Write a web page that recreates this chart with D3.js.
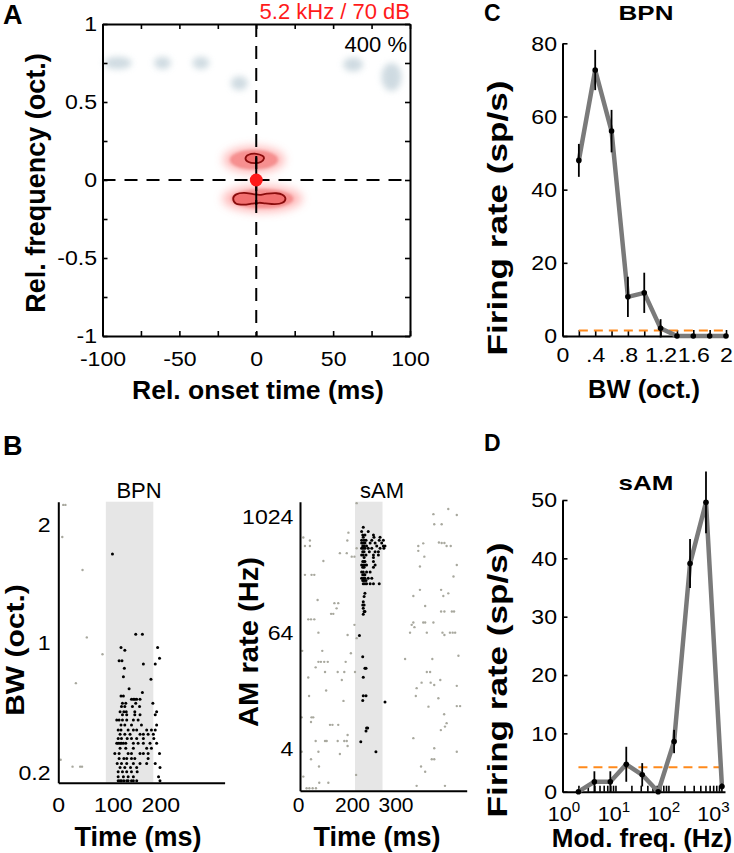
<!DOCTYPE html>
<html><head><meta charset="utf-8">
<script src="https://cdn.jsdelivr.net/npm/d3@7"></script>
<style>
body{margin:0;background:#fff;}
svg{display:block;font-family:"Liberation Sans",Arial,Helvetica,sans-serif;}
</style></head><body>
<svg id="fig" width="734" height="853"></svg>
<script>
// ================= DATA =================
// Panel A : blobs of the spectro-temporal map (rel. onset time ms, rel. freq oct.)
const aBlueT  = [-90, -61, -36, -11, 63, 88];
const aBlueF  = [0.75, 0.75, 0.75, 0.62, 0.74, 0.66];
const aBlueWT = [9, 5.5, 5.5, 5.5, 6.5, 6.5];
const aBlueWF = [0.04, 0.04, 0.04, 0.045, 0.045, 0.09];
const aRedT   = [-1.5, 4];
const aRedF   = [0.13, -0.12];
const aRedWT  = [20, 26];
const aRedWF  = [0.085, 0.085];
const aUpperContour = [[-7,0.138],[-5,0.162],[0,0.168],[4,0.155],[5,0.138],[3,0.115],[-1,0.108],[-5,0.115]];
const aLowerContour = [[-15,-0.12],[-13,-0.092],[-8,-0.083],[-2,-0.09],[2,-0.095],[7,-0.088],[13,-0.085],[17,-0.095],[19,-0.12],[17,-0.146],[12,-0.155],[6,-0.15],[2,-0.146],[-3,-0.152],[-8,-0.158],[-13,-0.152]];
const aXTicks = [-100,-75,-50,-25,0,25,50,75,100];
const aYTicks = [-1,-0.75,-0.5,-0.25,0,0.25,0.5,0.75,1];

// Panel C : BPN tuning
const cBW   = [0.2,0.4,0.6,0.8,1.0,1.2,1.4,1.6,1.8,2.0];
const cRate = [48,72.7,56,10.7,11.8,2.1,0,0,0,0];
const cErr  = [4.5,5.5,5.8,5.5,5.5,2.5,0,0,0,0];
const cSpont = 1.5;
const cXTicks = [0,0.2,0.4,0.6,0.8,1.0,1.2,1.4,1.6,1.8,2.0];
const cXLabels = {"0":"0","0.4":".4","0.8":".8","1.2":"1.2","1.6":"1.6","2":"2"};
const cYTicks = [0,20,40,60,80];

// Panel D : sAM tuning
const dMod  = [2,4,8,16,32,64,128,256,512,1024];
const dRate = [0,1.7,1.7,4.7,2.9,0,8.6,39.1,49.6,0.9];
const dErr  = [0,1.8,1.8,3,2,0,2,4.2,5.3,0.5];
const dSpont = 4.2;
const dYTicks = [0,10,20,30,40,50];
const dXMajor = [1,10,100,1000];
const dXLabelShift = [1.5,-1.5,-4.5,-8];

// Panel B left : BPN raster  [trial, spike times ms]
const bpnRows = [
 [0.5,[126,130,133,138,144,147,154,158,165,214]],
 [1.5,[126,137,147,158,211]],
 [2.7,[126,135,144,154,166]],
 [3.8,[130,140,152,165,214]],
 [4.8,[124,133,144,158,172,186,204]],
 [6,[128,138,144,154,161,189]],
 [7.3,[119,128,147,154,172,179,189,213]],
 [8.6,[130,142,158,186,196]],
 [9.8,[123,126,130,133,137,142,158,168,179,193,207]],
 [11,[126,133,145,154,165,179,201]],
 [12.1,[130,140,151,172,179,189,200]],
 [13.1,[126,132,147,158,165,186,196,204]],
 [14.4,[132,140,154,175,207]],
 [15.6,[123,128,135,144,158,168]],
 [16.9,[135,144,161,172,204]],
 [17.7,[130,138,143,161,207]],
 [19,[133,140,156,171]],
 [19.8,[135,142,163,199]],
 [20.8,[154,158,161,165,172]],
 [21.6,[132,137]],
 [22.5,[177]],
 [23.4,[149]],
 [25.8,[195]],
 [26.4,[137]],
 [28.5,[139]],
 [29.6,[179,204]],
 [30.4,[128,134]],
 [31,[213]],
 [33,[140]],
 [33.7,[132,209]],
 [37,[163,177]],
 [57,[114]]
];
const bpnSpont = [[10.5,69.2],[15,69.2],[8.4,61.2],[51,53],[60,36.2],[93,32],[37,24.8],[5,5.7],[30,4],[46,4],[50,4]];
const bpnTickTrials = [2.4, 34.8, 64.3];
const bpnTickLabels = ["0.2","1","2"];
const bpnXTicks = [0,100,200];
const bpnXLabelShift = [0,7,7];
const bpnStim = [100,200];

// Panel B right : sAM raster  [log2 AM rate, spike times ms]
const samRows = [
 [9.65,[230]],[9.5,[224,248]],[9.38,[228,236,267]],[9.3,[230,269,291]],
 [9.2,[224,233,240,261,288,303]],[9.1,[224,230,236,255,273,297]],
 [9.0,[228,233,242,279,303,309]],[8.92,[224,230,236,248,261,291,305]],
 [8.8,[228,233,252,273,285]],[8.69,[224,230,240,267,285]],[8.6,[233,267]],
 [8.46,[228,233,236,267]],[8.34,[224,230,236,242,273]],[8.26,[228,233,267]],
 [8.1,[224,230,242,255]],[8.0,[228,233,236]],[7.88,[224,230,236,248,261]],
 [7.8,[228,233,240]],[7.69,[230,236,242,255,267,288]],[7.36,[236]],[7.25,[233]],
 [7.07,[230]],[6.96,[228,233]],[6.84,[230]],[6.73,[233,236]],[6.64,[230]],
 [5.9,[216]],[5.17,[228]],[4.77,[236,240]],[4.46,[230]],[3.82,[230,240]],
 [3.65,[228]],[3.6,[309]],[2.7,[242,246]],[2.6,[240]],[2.23,[221]],[1.88,[276]]
];
const samSpont = [
 [12,9.29],[36,9.19],[18,9.0],[36,9.0],[176,9.46],[172,9.19],[145,8.75],[170,8.75],[188,8.63],[198,8.63],[206,8.92],[85,8.48],
 [18,8.0],[42,8.0],[52,8.0],[64,7.13],[125,7.02],[139,7.02],[133,6.84],[113,6.65],[121,6.65],[30,6.46],[40,6.46],[52,6.46],[198,6.27],[206,10.48],
 [485,10.1],[488,9.75],[515,9.75],[430,9.0],[448,9.09],[430,8.83],[452,8.63],[505,9.12],[515,9.1],[525,9.1],[436,8.29],[436,7.48],[412,7.27],
 [513,7.48],[521,7.27],[455,6.92],[513,6.73],[525,6.73],[412,6.35],[406,6.27],[448,6.35],[455,6.35],[485,6.35],
 [206,5.81],[67,6.0],[173,5.92],[8,5.37],[81,5.37],[185,5.29],[67,4.99],[76,4.99],[88,4.99],[101,4.99],[166,4.99],[57,4.8],
 [91,4.64],[137,4.64],[161,4.64],[200,4.64],[30,4.45],[152,4.36],[95,4.0],[33,3.81],[158,3.64],[6,3.07],[42,3.07],[48,3.07],
 [40,2.91],[109,2.81],[118,2.81],[139,2.81],[173,2.46],[57,2.25],[91,2.25],[97,2.25],[137,2.25],[161,2.25],[170,2.25],[173,2.08],
 [67,1.88],[6,1.88],[145,1.8],[40,1.62],[69,1.37],
 [416,6.19],[400,6.0],[461,6.0],[518,6.0],[525,5.92],[382,5.09],[481,5.09],[461,4.64],[473,4.64],[442,4.27],[475,4.27],[488,4.19],
 [510,4.36],[424,4.08],[421,3.81],[503,3.73],[467,3.44],[524,3.18],[512,2.63],[412,2.35],[488,2.0],[479,1.62],[488,1.62],[440,1.37],
 [539,10.28],[570,10.07],[533,9.0],[548,9.0],[570,8.34],[558,7.94],[539,7.36],[552,6.73],[560,6.73],[545,6.0],[555,6.0],[564,6.0],
 [576,5.2],[570,4.16],[582,3.46],[570,3.46],[533,2.87],[527,2.75],[570,1.88],
 [12,1.02],[24,0.62],[34,0.62],[46,0.62],[58,0.62],[70,0.81],[103,0.81],[204,1.08],[424,0.7],[527,0.7],[455,1.19]
];
const samTickOct = [2,6,10];
const samXTicks = [0,200,300];
const samXLabelShift = [-2,-3,13];
const samStim = [200,300];

// ================= DRAWING =================
const FONT = '"Liberation Sans", Arial, Helvetica, sans-serif';
const svg = d3.select("#fig");
const defs = svg.append("defs");
[["blur3",3.2],["blur5",5],["blur2",1.6]].forEach(([id,s])=>{
  defs.append("filter").attr("id",id).attr("x","-50%").attr("y","-50%").attr("width","200%").attr("height","200%")
    .append("feGaussianBlur").attr("stdDeviation",s);
});

// sx stretches a text along its own writing direction
function label(str, x, y, o={}) {
  const sx = o.sx||1, rot = o.rot||0;
  return svg.append("text")
    .attr("transform",`translate(${x},${y}) rotate(${rot}) scale(${sx},1)`)
    .attr("text-anchor",o.anchor||"middle")
    .attr("font-size",o.size||20).attr("font-weight",o.weight||"normal")
    .attr("fill",o.fill||"#000").attr("font-family",FONT).text(str);
}
function styleAxis(g, fs=21, sx=1.1) {
  g.attr("font-family",FONT);
  g.select(".domain").attr("stroke","#000").attr("stroke-width",2);
  g.selectAll(".tick line").attr("stroke","#000").attr("stroke-width",1.6);
  g.selectAll(".tick text").attr("font-size",fs).attr("fill","#000").attr("transform",`scale(${sx},1)`);
}

// ---------- Panel A ----------
const xA = d3.scaleLinear().domain([-100,100]).range([102.5,410]);
const yA = d3.scaleLinear().domain([-1,1]).range([336,24]);
const gA = svg.append("g");
gA.selectAll("ellipse.blue").data(aBlueT).join("ellipse")
  .attr("cx",(d,i)=>xA(d)).attr("cy",(d,i)=>yA(aBlueF[i]))
  .attr("rx",(d,i)=>xA(aBlueWT[i])-xA(0)).attr("ry",(d,i)=>yA(0)-yA(aBlueWF[i]))
  .attr("fill","#c3d2da").attr("opacity",0.8).attr("filter","url(#blur3)");
gA.selectAll("ellipse.halo").data(aRedT).join("ellipse")
  .attr("cx",(d)=>xA(d)).attr("cy",(d,i)=>yA(aRedF[i]))
  .attr("rx",(d,i)=>xA(aRedWT[i])-xA(0)).attr("ry",(d,i)=>yA(0)-yA(aRedWF[i]))
  .attr("fill","#ffa6a6").attr("opacity",0.8).attr("filter","url(#blur5)");
gA.selectAll("ellipse.mid").data(aRedT).join("ellipse")
  .attr("cx",(d)=>xA(d)).attr("cy",(d,i)=>yA(aRedF[i]))
  .attr("rx",(d,i)=>(xA(aRedWT[i])-xA(0))*0.75).attr("ry",(d,i)=>(yA(0)-yA(aRedWF[i]))*0.66)
  .attr("fill","#f47a7a").attr("opacity",0.65).attr("stroke","#e25c5c").attr("stroke-width",1.2).attr("filter","url(#blur2)");
const contourLine = d3.line().x(d=>xA(d[0])).y(d=>yA(d[1])).curve(d3.curveCardinalClosed);
[aUpperContour, aLowerContour].forEach(c=>{
  gA.append("path").attr("d",contourLine(c)).attr("fill","#ee5050").attr("fill-opacity",0.5)
    .attr("stroke","#8a0c0c").attr("stroke-width",1.8);
});
gA.append("line").attr("x1",xA(0)).attr("x2",xA(0)).attr("y1",yA(1)).attr("y2",yA(-1))
  .attr("stroke","#000").attr("stroke-width",2).attr("stroke-dasharray","13,9");
gA.append("line").attr("x1",xA(-100)).attr("x2",xA(100)).attr("y1",yA(0)).attr("y2",yA(0))
  .attr("stroke","#000").attr("stroke-width",2).attr("stroke-dasharray","13,9");
gA.append("line").attr("x1",xA(0)).attr("x2",xA(0)).attr("y1",yA(0.145)).attr("y2",yA(-0.16))
  .attr("stroke","#000").attr("stroke-width",2);
gA.append("circle").attr("cx",xA(0)).attr("cy",yA(0)).attr("r",6.5).attr("fill","#ff1a1a");
const fmtA = d => (Math.abs(d)%50===0 ? String(d) : "");
const fmtAy = d => (Math.abs(d*2)%1===0 ? String(d) : "");
let ax = gA.append("g").attr("transform","translate(0,336)")
  .call(d3.axisBottom(xA).tickValues(aXTicks).tickSizeInner(-5).tickSizeOuter(0).tickPadding(15).tickFormat(fmtA));
styleAxis(ax);
ax = gA.append("g").attr("transform","translate(0,24)")
  .call(d3.axisTop(xA).tickValues(aXTicks).tickSizeInner(-5).tickSizeOuter(0).tickFormat(""));
styleAxis(ax);
ax = gA.append("g").attr("transform","translate(102.5,0)")
  .call(d3.axisLeft(yA).tickValues(aYTicks).tickSizeInner(-5).tickSizeOuter(0).tickPadding(5).tickFormat(fmtAy));
styleAxis(ax);
ax = gA.append("g").attr("transform","translate(410,0)")
  .call(d3.axisRight(yA).tickValues(aYTicks).tickSizeInner(-5).tickSizeOuter(0).tickFormat(""));
styleAxis(ax);
label("5.2 kHz / 70 dB", 410, 19, {anchor:"end", size:22, fill:"#ff1a1a"});
label("400 %", 407, 52, {anchor:"end", size:22});
label("Rel. onset time (ms)", 258, 399, {size:26.5, weight:"bold"});
label("Rel. frequency (oct.)", 45, 183, {size:27, weight:"bold", rot:-90});
label("A", 3, 24, {anchor:"start", size:27, weight:"bold"});

// ---------- Panel C ----------
const xC = d3.scaleLinear().domain([0,2]).range([562.5,726]);
const yC = d3.scaleLinear().domain([0,80]).range([336,43.3]);
const gC = svg.append("g");
ax = gC.append("g").attr("transform","translate(0,336)")
  .call(d3.axisBottom(xC).tickValues(cXTicks).tickSizeInner(-6).tickSizeOuter(0).tickPadding(11)
    .tickFormat(d=>cXLabels[String(+d.toFixed(1))]||""));
styleAxis(ax);
ax = gC.append("g").attr("transform","translate(562.5,0)")
  .call(d3.axisLeft(yC).tickValues(cYTicks).tickSizeInner(-5).tickSizeOuter(0).tickPadding(5));
styleAxis(ax);
gC.append("line").attr("x1",xC(cBW[0])).attr("x2",xC(cBW[cBW.length-1])).attr("y1",yC(cSpont)).attr("y2",yC(cSpont))
  .attr("stroke","#ff8a1c").attr("stroke-width",2).attr("stroke-dasharray","9,6");
gC.append("path").datum(cBW).attr("fill","none").attr("stroke","#7a7a7a").attr("stroke-width",4.5).attr("stroke-linejoin","round")
  .attr("d",d3.line().x(d=>xC(d)).y((d,i)=>yC(cRate[i])));
gC.selectAll("line.err").data(cBW).join("line").attr("x1",d=>xC(d)).attr("x2",d=>xC(d))
  .attr("y1",(d,i)=>yC(cRate[i]-cErr[i])).attr("y2",(d,i)=>yC(cRate[i]+cErr[i])).attr("stroke","#000").attr("stroke-width",1.8);
gC.selectAll("circle.pt").data(cBW).join("circle").attr("cx",d=>xC(d)).attr("cy",(d,i)=>yC(cRate[i])).attr("r",2.8).attr("fill","#000");
label("BPN", 646, 20, {size:20, weight:"bold", sx:1.3});
label("BW (oct.)", 644, 398, {size:25.5, weight:"bold"});
label("Firing rate (sp/s)", 507, 218, {size:27, weight:"bold", rot:-90, sx:1.3});
label("C", 484, 21, {anchor:"start", size:23, weight:"bold"});

// ---------- Panel D ----------
const xD = d3.scaleLog().domain([1,1170]).range([562.5,725]);
const yD = d3.scaleLinear().domain([0,50]).range([791.7,500]);
const gD = svg.append("g");
const dMinor = [];
dXMajor.slice(0,3).forEach(m=>{ for(let k=1;k<10;k++) dMinor.push(m*k); });
dMinor.push(1000);
ax = gD.append("g").attr("transform","translate(0,791.7)")
  .call(d3.axisBottom(xD).tickValues(dMinor).tickSizeInner(-6).tickSizeOuter(0).tickFormat(""));
styleAxis(ax);
ax = gD.append("g").attr("transform","translate(562.5,0)")
  .call(d3.axisLeft(yD).tickValues(dYTicks).tickSizeInner(-5).tickSizeOuter(0).tickPadding(5));
styleAxis(ax);
dXMajor.forEach((m,i)=>{
  const t = svg.append("text").attr("transform",`translate(${xD(m)+dXLabelShift[i]},821) scale(1.08,1)`).attr("text-anchor","middle")
    .attr("font-family",FONT).attr("font-size",20);
  t.append("tspan").text("10");
  t.append("tspan").attr("font-size",14).attr("dy",-9).text(String(i));
});
gD.append("line").attr("x1",xD(dMod[0])).attr("x2",xD(dMod[dMod.length-1])).attr("y1",yD(dSpont)).attr("y2",yD(dSpont))
  .attr("stroke","#ff8a1c").attr("stroke-width",2).attr("stroke-dasharray","9,6");
gD.append("path").datum(dMod).attr("fill","none").attr("stroke","#7a7a7a").attr("stroke-width",4.5).attr("stroke-linejoin","round")
  .attr("d",d3.line().x(d=>xD(d)).y((d,i)=>yD(dRate[i])));
gD.selectAll("line.err").data(dMod).join("line").attr("x1",d=>xD(d)).attr("x2",d=>xD(d))
  .attr("y1",(d,i)=>yD(dRate[i]-dErr[i])).attr("y2",(d,i)=>yD(dRate[i]+dErr[i])).attr("stroke","#000").attr("stroke-width",1.8);
gD.selectAll("circle.pt").data(dMod).join("circle").attr("cx",d=>xD(d)).attr("cy",(d,i)=>yD(dRate[i])).attr("r",2.8).attr("fill","#000");
label("sAM", 646, 490, {size:20, weight:"bold", sx:1.3});
label("Mod. freq. (Hz)", 642, 847, {size:26, weight:"bold"});
label("Firing rate (sp/s)", 507, 680, {size:27, weight:"bold", rot:-90, sx:1.3});
label("D", 484, 451, {anchor:"start", size:23, weight:"bold"});

// ---------- Panel B left ----------
const xBL = d3.scaleLinear().domain([0,350]).range([58.3,224.6]);
const yBL = d3.scaleLinear().domain([0,70]).range([782.7,501.7]);
const gBL = svg.append("g");
gBL.append("rect").attr("x",xBL(bpnStim[0])).attr("width",xBL(bpnStim[1])-xBL(bpnStim[0]))
  .attr("y",yBL(70)).attr("height",yBL(0)-yBL(70)).attr("fill","#e6e6e6");
gBL.selectAll("circle.sp").data(bpnSpont).join("circle").attr("cx",d=>xBL(d[0])).attr("cy",d=>yBL(d[1])).attr("r",1.2).attr("fill","#a8a89e");
const bpnFlat = bpnRows.flatMap(([tr,ts])=>ts.map(t=>[t,tr]));
gBL.selectAll("circle.bk").data(bpnFlat).join("circle").attr("cx",d=>xBL(d[0])).attr("cy",d=>yBL(d[1])).attr("r",1.5).attr("fill","#000");
ax = gBL.append("g").attr("transform","translate(0,782.7)")
  .call(d3.axisBottom(xBL).tickValues(bpnXTicks).tickSize(0).tickPadding(14));
styleAxis(ax);
ax.selectAll(".tick text").attr("x",(d,i)=>bpnXLabelShift[i]/1.1);
ax = gBL.append("g").attr("transform","translate(58.3,0)")
  .call(d3.axisLeft(yBL).tickValues(bpnTickTrials).tickSize(0).tickPadding(7).tickFormat((d,i)=>bpnTickLabels[i]));
styleAxis(ax);
label("BPN", 139, 498, {size:22});
label("Time (ms)", 138, 846, {size:27, weight:"bold"});
label("BW (oct.)", 24, 650, {size:25, weight:"bold", rot:-90, sx:1.2});
label("B", 3, 455, {anchor:"start", size:27, weight:"bold"});

// ---------- Panel B right ----------
const xBR = d3.scaleLinear().domain([0,606]).range([300,466.7]);
const yBR = d3.scaleLinear().domain([0.533,10.53]).range([790.7,501.7]);
const gBR = svg.append("g");
gBR.append("rect").attr("x",xBR(samStim[0])).attr("width",xBR(samStim[1])-xBR(samStim[0]))
  .attr("y",yBR(10.53)).attr("height",yBR(0.533)-yBR(10.53)).attr("fill","#e6e6e6");
gBR.selectAll("circle.sp").data(samSpont).join("circle").attr("cx",d=>xBR(d[0])).attr("cy",d=>yBR(d[1])).attr("r",1.2).attr("fill","#a8a89e");
const samFlat = samRows.flatMap(([r,ts])=>ts.map(t=>[t,r]));
gBR.selectAll("circle.bk").data(samFlat).join("circle").attr("cx",d=>xBR(d[0])).attr("cy",d=>yBR(d[1])).attr("r",1.5).attr("fill","#000");
ax = gBR.append("g").attr("transform","translate(0,790.7)")
  .call(d3.axisBottom(xBR).tickValues(samXTicks).tickSize(0).tickPadding(6));
styleAxis(ax, 21, 1.0);
ax.selectAll(".tick text").attr("x",(d,i)=>samXLabelShift[i]);
ax = gBR.append("g").attr("transform","translate(300,0)")
  .call(d3.axisLeft(yBR).tickValues(samTickOct).tickSize(0).tickPadding(6).tickFormat(d=>String(2**d)));
styleAxis(ax);
label("sAM", 382, 498, {size:22});
label("Time (ms)", 377, 846, {size:27, weight:"bold"});
label("AM rate (Hz)", 258, 642, {size:27, weight:"bold", rot:-90, sx:1.08});
</script>
</body></html>
